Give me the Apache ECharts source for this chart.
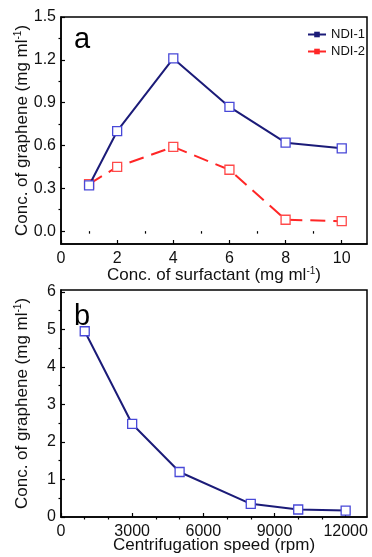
<!DOCTYPE html>
<html>
<head>
<meta charset="utf-8">
<script src="https://cdn.jsdelivr.net/npm/echarts@6/dist/echarts.min.js"></script>
<style>html,body{margin:0;padding:0;background:#fff;}#c{width:372px;height:557px;}</style>
</head>
<body>
<div id="c"></div>
<script>
// Panel a data
const surfactantConc = [1, 2, 4, 6, 8, 10];
const ndi1 = [0.32, 0.70, 1.21, 0.87, 0.62, 0.58];
const ndi2 = [0.33, 0.45, 0.59, 0.43, 0.08, 0.07];
const aXTicks = [0, 2, 4, 6, 8, 10];
const aXMinor = [1, 3, 5, 7, 9];
const aYTicks = [0, 0.3, 0.6, 0.9, 1.2, 1.5];
const aYMinor = [0.15, 0.45, 0.75, 1.05, 1.35];
// Panel b data
const speed = [1000, 3000, 5000, 8000, 10000, 12000];
const grapheneB = [4.95, 2.48, 1.20, 0.35, 0.20, 0.17];
const bXTicks = [0, 3000, 6000, 9000, 12000];
const bXMinor = [1000, 2000, 4000, 5000, 7000, 8000, 10000, 11000];
const bYTicks = [0, 1, 2, 3, 4, 5, 6];
const bYMinor = [0.5, 1.5, 2.5, 3.5, 4.5, 5.5];

const FONT = 'Arial, "Liberation Sans", sans-serif';
const NAVY = '#1b1b78';
const RED = '#ff2626';
const MARK = '#4848d8';
const MARKR = '#ff4a4a';

const richName = {
  n: {fontSize: 17, fontFamily: FONT, color: '#111', lineHeight: 19},
  s: {fontSize: 10, fontFamily: FONT, color: '#111', verticalAlign: 'top', lineHeight: 19, padding: [0, 0, 7, 0]}
};

function mainAxis(grid, min, max, ticks, name, gap, margin, fmt) {
  return {
    type: 'value', gridIndex: grid, min: min, max: max,
    name: name, nameLocation: 'middle', nameGap: gap, nameMoveOverlap: false,
    nameTextStyle: {fontSize: 17, fontFamily: FONT, color: '#111', rich: richName},
    axisLine: {show: true, onZero: false, lineStyle: {color: '#000', width: 1.5}},
    axisTick: {show: true, inside: true, length: 4, customValues: ticks, lineStyle: {color: '#000', width: 1.2}},
    axisLabel: {show: true, customValues: ticks, margin: margin, fontSize: 16, fontFamily: FONT, color: '#111', formatter: fmt},
    splitLine: {show: false}
  };
}
function minorAxis(grid, min, max, ticks) {
  return {
    type: 'value', gridIndex: grid, min: min, max: max,
    axisLine: {show: false},
    axisTick: {show: true, inside: true, length: 2.5, customValues: ticks, lineStyle: {color: '#000', width: 1.2}},
    axisLabel: {show: false},
    splitLine: {show: false}
  };
}

const chart = echarts.init(document.getElementById('c'), null, {renderer: 'canvas'});
chart.setOption({
  animation: false,
  backgroundColor: '#fff',
  title: [
    {text: 'a', left: 69, top: 20, textStyle: {fontSize: 29, fontWeight: 'normal', fontFamily: FONT, color: '#000'}},
    {text: 'b', left: 69, top: 297, textStyle: {fontSize: 29, fontWeight: 'normal', fontFamily: FONT, color: '#000'}}
  ],
  grid: [
    {left: 61, top: 17, width: 306, height: 227, show: true, borderColor: '#000', borderWidth: 1.5, containLabel: false},
    {left: 61, top: 290, width: 306, height: 227, show: true, borderColor: '#000', borderWidth: 1.5, containLabel: false}
  ],
  legend: {
    orient: 'vertical', left: 302, top: 23, itemWidth: 18, itemHeight: 7, itemGap: 4,
    textStyle: {fontSize: 13, fontFamily: FONT, color: '#111'},
    data: [
      {name: 'NDI-1', itemStyle: {color: NAVY, borderColor: NAVY, borderWidth: 0}, lineStyle: {color: NAVY, width: 2, type: 'solid'}},
      {name: 'NDI-2', itemStyle: {color: RED, borderColor: RED, borderWidth: 0}, lineStyle: {color: RED, width: 2, type: 'solid'}}
    ]
  },
  xAxis: [
    mainAxis(0, 0, 10.9, aXTicks, '{n|Conc. of surfactant (mg ml}{s|-1}{n|)}', 22, 7, v => String(v)),
    minorAxis(0, 0, 10.9, aXMinor),
    mainAxis(1, 0, 12900, bXTicks, 'Centrifugation speed (rpm)', 20, 7, v => String(v)),
    minorAxis(1, 0, 12900, bXMinor)
  ],
  yAxis: [
    mainAxis(0, -0.09, 1.5, aYTicks, '{n|Conc. of graphene (mg ml}{s|-1}{n|)}', 29, 5, v => v.toFixed(1)),
    minorAxis(0, -0.09, 1.5, aYMinor),
    mainAxis(1, 0, 6.05, bYTicks, '{n|Conc. of graphene (mg ml}{s|-1}{n|)}', 29, 5, v => String(v)),
    minorAxis(1, 0, 6.05, bYMinor)
  ],
  series: [
    {
      name: 'NDI-1', type: 'line', xAxisIndex: 0, yAxisIndex: 0,
      data: surfactantConc.map((x, i) => [x, ndi1[i]]),
      symbol: 'rect', symbolSize: 9,
      lineStyle: {color: NAVY, width: 2},
      itemStyle: {color: '#fff', borderColor: MARK, borderWidth: 1.3},
      z: 3
    },
    {
      name: 'NDI-2', type: 'line', xAxisIndex: 0, yAxisIndex: 0,
      data: surfactantConc.map((x, i) => [x, ndi2[i]]),
      symbol: 'rect', symbolSize: 9,
      lineStyle: {color: RED, width: 2, type: [15, 8]},
      itemStyle: {color: '#fff', borderColor: MARKR, borderWidth: 1.3},
      z: 2
    },
    {
      name: 'speed', type: 'line', xAxisIndex: 2, yAxisIndex: 2,
      data: speed.map((x, i) => [x, grapheneB[i]]),
      symbol: 'rect', symbolSize: 9,
      lineStyle: {color: NAVY, width: 2},
      itemStyle: {color: '#fff', borderColor: MARK, borderWidth: 1.3}
    }
  ]
});
</script>
</body>
</html>
